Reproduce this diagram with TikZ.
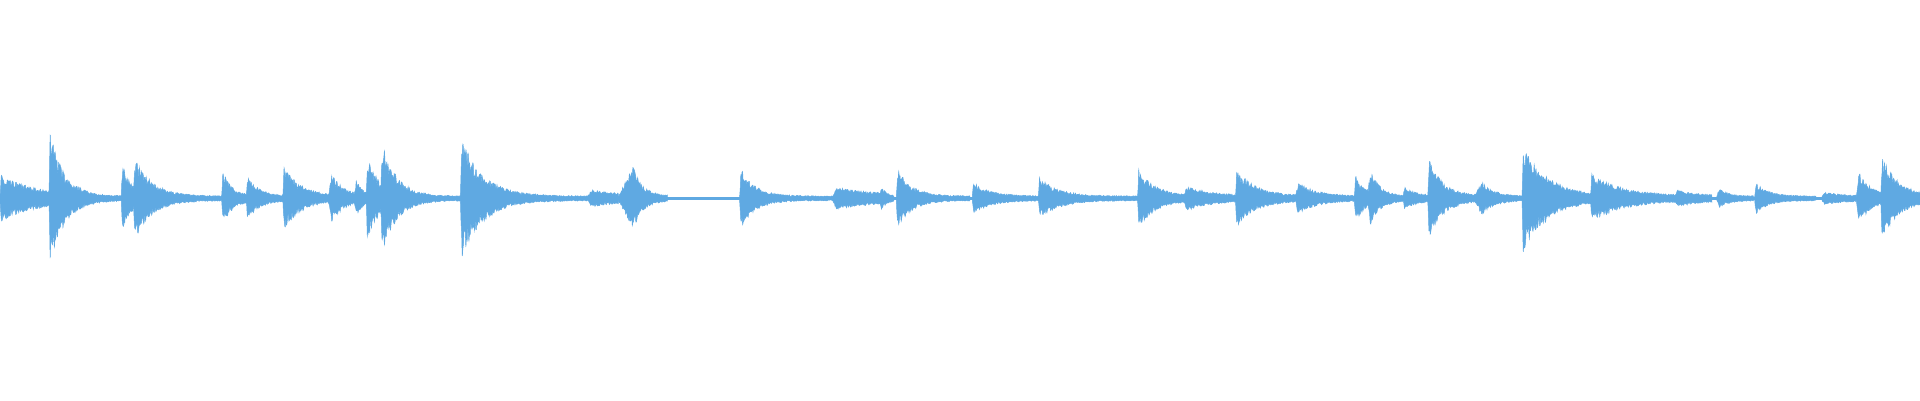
\documentclass[tikz,border=0pt]{standalone}
\definecolor{wv}{HTML}{5FA9E2}
\begin{document}
\begin{tikzpicture}[x=0.5pt,y=-0.5pt,wave/.style={fill=wv,draw=wv,line width=0.2pt}]
\useasboundingbox (0,0) rectangle (1568,327);
\pgfmathsetseed{7}
\fill[wv] (0,160.5) rectangle (1568,163.5);
\foreach \s/\a/\at/\t/\l in {
0/17/1/30/42, 40/52/1/12/60, 99/26/1/8/12, 109/32/1/14/72,
181/20/1/8/22, 201/16/1/10/32, 231/24/1/14/40, 268/18/3/10/22, 289/13/2/6/12,
299/32/1/10/14, 311/44/1/12/66, 376/46/1/18/110,
480/5/3/30/25, 505/24/12/8/40,
604/22/1/12/78, 680/7/3/40/40, 718/8/2/4/12, 732/22/1/12/60,
794/11/1/14/56, 848/15/1/16/82,
929/22/1/14/40, 967/8/2/22/44, 1009/22/1/16/50, 1058/11/2/16/50,
1106/18/1/8/14, 1117/22/2/8/30, 1146/8/1/10/20, 1166/30/1/12/40,
1204/12/6/10/40, 1243/42/1/20/58, 1299/18/1/26/70, 1368/5/2/20/30,
1402/6/2/8/30, 1433/11/1/10/50, 1488/3/2/20/28, 1516/20/2/10/22, 1536/32/1/14/32}{
\fill[wave] plot[domain=0:\l,samples=\l*2+2,smooth]
  (\s+\x,{162-(\a*min(1,\x/\at)*exp(-max(0,\x-\at)/\t)+2)*(0.6+0.4*rnd)})
  -- plot[domain=\l:0,samples=\l*2+2,smooth]
  (\s+\x,{162+(\a*min(1,\x/\at)*exp(-max(0,\x-\at)/\t)+2)*(0.6+0.4*rnd)}) -- cycle;
}
\end{tikzpicture}
\end{document}
